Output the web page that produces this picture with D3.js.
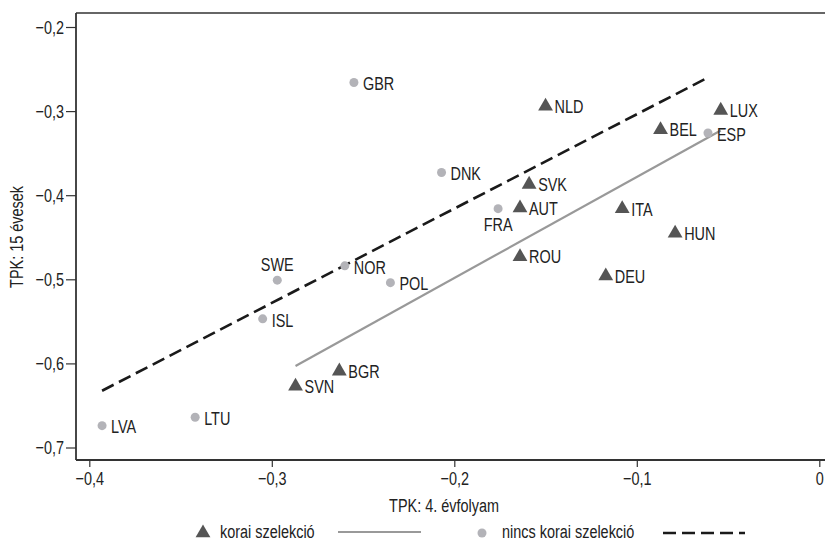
<!DOCTYPE html>
<html>
<head>
<meta charset="utf-8">
<script src="https://cdn.jsdelivr.net/npm/d3@7"></script>
<style>
  body { margin: 0; background: #fff; }
  text { font-family: "Liberation Sans", Arial, sans-serif; font-size: 19px; fill: #222; }
</style>
</head>
<body>
<svg id="chart" width="825" height="542"></svg>
<script>
// countries with early selection (triangles)
const koraiCountries = ['NLD', 'LUX', 'BEL', 'SVK', 'AUT', 'ITA', 'HUN', 'ROU', 'DEU', 'SVN', 'BGR'];
const koraiX = [-0.150, -0.054, -0.087, -0.159, -0.164, -0.108, -0.079, -0.164, -0.117, -0.287, -0.263];
const koraiY = [-0.293, -0.298, -0.321, -0.386, -0.414, -0.415, -0.444, -0.472, -0.495, -0.626, -0.608];

// countries without early selection (dots)
const nincsCountries = ['GBR', 'DNK', 'ESP', 'FRA', 'SWE', 'NOR', 'POL', 'ISL', 'LVA', 'LTU'];
const nincsX = [-0.255, -0.207, -0.061, -0.176, -0.297, -0.260, -0.235, -0.305, -0.393, -0.342];
const nincsY = [-0.266, -0.373, -0.326, -0.416, -0.501, -0.484, -0.504, -0.547, -0.674, -0.664];

// fitted lines (endpoints)
const fitKorai = [[-0.287, -0.603], [-0.054, -0.323]];
const fitNincs = [[-0.393, -0.6325], [-0.061, -0.260]];

const xTicks = [-0.4, -0.3, -0.2, -0.1, 0];
const yTicks = [-0.2, -0.3, -0.4, -0.5, -0.6, -0.7];
const labelAbove = ['SWE'];
const labelBelow = ['FRA'];

const SX = 0.76; // squeeze text to look like a condensed face

const svg = d3.select('#chart');
const margin = {left: 76, top: 13, right: 826, bottom: 460};

const x = d3.scaleLinear().domain([-0.4, 0]).range([89.3, 819.3]);
const y = d3.scaleLinear().domain([-0.2, -0.7]).range([27, 447.5]);

const loc = d3.formatLocale({decimal: ',', thousands: ' ', grouping: [3], currency: ['', ''], minus: '\u2212'});
const fmt = v => v === 0 ? '0' : loc.format('.1f')(v);

// place a text at px,py squeezed horizontally
function place(sel, px, py) {
    sel.attr('x', 0).attr('y', 0)
        .attr('transform', (d, i) => {
            const X = typeof px === 'function' ? px(d, i) : px;
            const Y = typeof py === 'function' ? py(d, i) : py;
            return `translate(${X},${Y}) scale(${SX},1)`;
        });
}

// plot frame
svg.append('line')
    .attr('x1', margin.left).attr('x2', margin.right)
    .attr('y1', margin.top).attr('y2', margin.top)
    .attr('stroke', '#666').attr('stroke-width', 2);

// axes
const xAxis = d3.axisBottom(x).tickValues(xTicks).tickFormat(fmt).tickSize(7).tickPadding(4);
const yAxis = d3.axisLeft(y).tickValues(yTicks).tickFormat(fmt).tickSize(10).tickPadding(2);

const gx = svg.append('g').attr('transform', `translate(0,${margin.bottom})`).call(xAxis);
const gy = svg.append('g').attr('transform', `translate(${margin.left},0)`).call(yAxis);

gx.select('.domain').attr('d', `M${margin.left},0H${margin.right}`).attr('stroke', '#333').attr('stroke-width', 2);
gy.select('.domain').attr('d', `M0,${margin.top}V${margin.bottom}`).attr('stroke', '#333').attr('stroke-width', 1.8);
[gx, gy].forEach(g => {
    g.selectAll('.tick line').attr('stroke', '#333').attr('stroke-width', 1.2);
    g.selectAll('.tick text').attr('fill', '#222').style('font-size', '19px');
});
gx.selectAll('.tick text').attr('transform', `scale(${SX},1)`).attr('y', 12).attr('dy', '0.71em');
gy.selectAll('.tick text').attr('x', -12 / SX).attr('transform', `scale(${SX},1)`);

// axis titles
svg.append('text')
    .attr('text-anchor', 'middle')
    .call(place, 444, 512)
    .text('TPK: 4. évfolyam');

svg.append('text')
    .attr('transform', `translate(23,237) rotate(-90) scale(${SX},1)`)
    .attr('text-anchor', 'middle')
    .text('TPK: 15 évesek');

// fit lines
const line = d3.line().x(d => x(d[0])).y(d => y(d[1]));
svg.append('path').datum(fitNincs).attr('d', line)
    .attr('fill', 'none').attr('stroke', '#1a1a1a').attr('stroke-width', 2.6)
    .attr('stroke-dasharray', '13,6');
svg.append('path').datum(fitKorai).attr('d', line)
    .attr('fill', 'none').attr('stroke', '#999').attr('stroke-width', 2.2);

// points
const korai = koraiCountries.map((c, i) => ({c, x: koraiX[i], y: koraiY[i]}));
const nincs = nincsCountries.map((c, i) => ({c, x: nincsX[i], y: nincsY[i]}));

svg.selectAll('.dot').data(nincs).join('circle')
    .attr('class', 'dot')
    .attr('cx', d => x(d.x)).attr('cy', d => y(d.y))
    .attr('r', 4.5).attr('fill', '#b3b3b8');

const tri = d3.symbol(d3.symbolTriangle, 95);
svg.selectAll('.tri').data(korai).join('path')
    .attr('class', 'tri')
    .attr('transform', d => `translate(${x(d.x)},${y(d.y) + 1})`)
    .attr('d', tri).attr('fill', '#555');

// labels
const side = d => labelAbove.includes(d.c) ? 'above' : labelBelow.includes(d.c) ? 'below' : 'right';
svg.selectAll('.lbl').data(korai.concat(nincs)).join('text')
    .attr('class', 'lbl')
    .attr('dominant-baseline', 'central')
    .attr('text-anchor', d => side(d) === 'right' ? 'start' : 'middle')
    .call(place,
        d => side(d) === 'right' ? x(d.x) + 9 : x(d.x),
        d => side(d) === 'above' ? y(d.y) - 15 : side(d) === 'below' ? y(d.y) + 16 : y(d.y) + 1.5)
    .text(d => d.c);

// legend
const ly = 532;
svg.append('path').attr('d', tri).attr('transform', `translate(203,${ly + 1})`).attr('fill', '#555');
svg.append('text').attr('dominant-baseline', 'central')
    .call(place, 220, ly).text('korai szelekció');
svg.append('line').attr('x1', 338).attr('x2', 421).attr('y1', ly).attr('y2', ly)
    .attr('stroke', '#999').attr('stroke-width', 2.2);

svg.append('circle').attr('cx', 482).attr('cy', ly + 1).attr('r', 4.5).attr('fill', '#b3b3b8');
svg.append('text').attr('dominant-baseline', 'central')
    .call(place, 502, ly).text('nincs korai szelekció');
svg.append('line').attr('x1', 663).attr('x2', 745).attr('y1', ly + 1).attr('y2', ly + 1)
    .attr('stroke', '#1a1a1a').attr('stroke-width', 2.6).attr('stroke-dasharray', '13,6');
</script>
</body>
</html>
